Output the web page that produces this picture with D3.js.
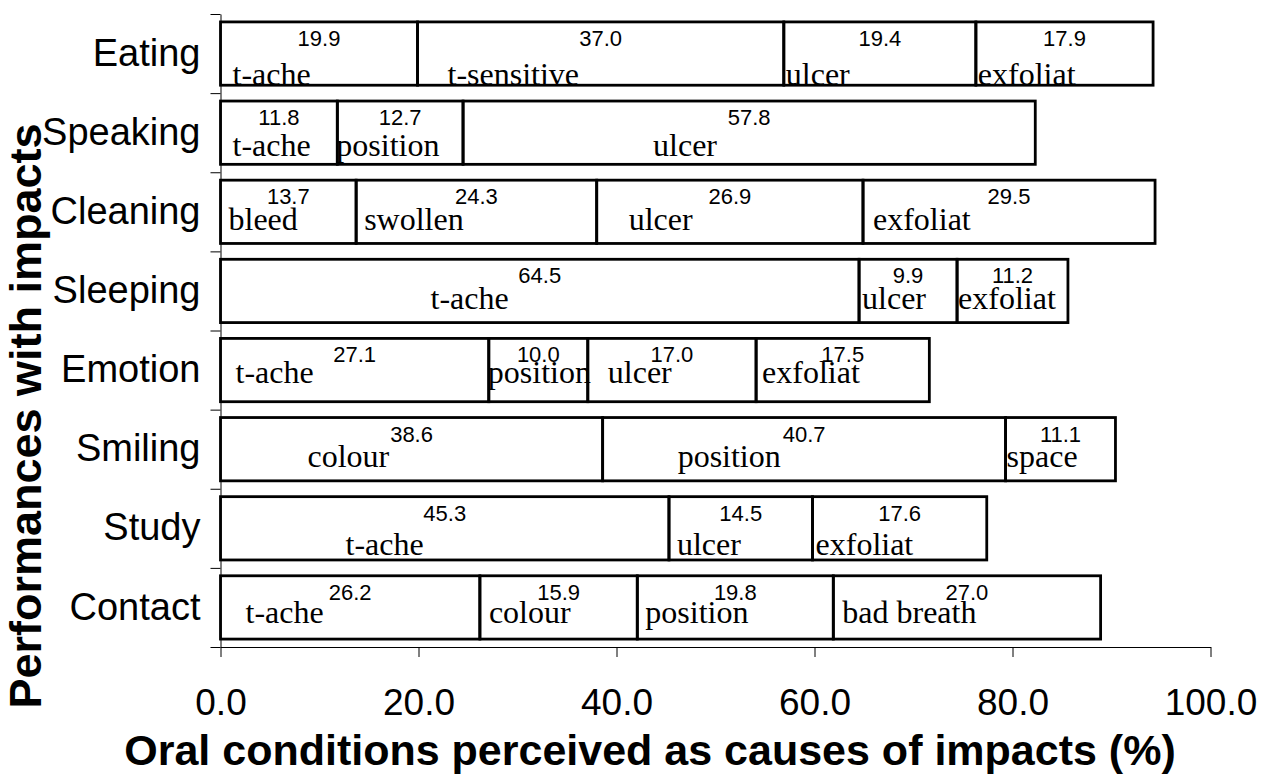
<!DOCTYPE html>
<html>
<head>
<meta charset="utf-8">
<script src="https://cdn.jsdelivr.net/npm/d3@7"></script>
<style>
  body { margin: 0; background: #fff; }
  svg text { fill: #000; }
</style>
</head>
<body>
<div id="chart"></div>
<script>
// impacts (rows, top to bottom)
var categories = ["Eating", "Speaking", "Cleaning", "Sleeping", "Emotion", "Smiling", "Study", "Contact"];

// percentages per row, stacked left to right
var values = [
  [19.9, 37.0, 19.4, 17.9],
  [11.8, 12.7, 57.8],
  [13.7, 24.3, 26.9, 29.5],
  [64.5, 9.9, 11.2],
  [27.1, 10.0, 17.0, 17.5],
  [38.6, 40.7, 11.1],
  [45.3, 14.5, 17.6],
  [26.2, 15.9, 19.8, 27.0]
];

// oral condition for each segment
var conditions = [
  ["t-ache", "t-sensitive", "ulcer", "exfoliat"],
  ["t-ache", "position", "ulcer"],
  ["bleed", "swollen", "ulcer", "exfoliat"],
  ["t-ache", "ulcer", "exfoliat"],
  ["t-ache", "position", "ulcer", "exfoliat"],
  ["colour", "position", "space"],
  ["t-ache", "ulcer", "exfoliat"],
  ["t-ache", "colour", "position", "bad breath"]
];

var xTicks = [0, 20, 40, 60, 80, 100];

// hand placement of the condition names (px from segment start / bar top)
var nameDx = [
  [12, 30, 2, 2],
  [12, -1, 190],
  [8, 8, 32, 10],
  [210, 3, 1],
  [15, -1, 20, 6],
  [87, 75, 1],
  [125, 8, 3],
  [25, 9, 8, 9]
];
var nameDy = [63, 55, 50, 50, 45, 49, 58, 47];

var width = 1264, height = 778;
var plot = {left: 220.5, right: 1210.5, top: 14, bottom: 647};

var svg = d3.select("#chart")
  .append("svg")
    .attr("width", width)
    .attr("height", height);

var x = d3.scaleLinear()
  .domain([0, 100])
  .range([plot.left, plot.right]);

var y = d3.scaleBand()
  .domain(categories)
  .range([plot.top, plot.bottom])
  .paddingInner(0.2)
  .paddingOuter(0.1);

// band edges for the y tick marks
var yEdge = d3.scaleLinear()
  .domain([0, categories.length])
  .range([plot.top, plot.bottom]);

// build stacked segments
var segments = [];
categories.forEach(function(c, i) {
  var start = 0;
  values[i].forEach(function(v, j) {
    segments.push({cat: c, row: i, col: j, x0: start, x1: start + v, value: v, name: conditions[i][j]});
    start += v;
  });
});

var g = svg.append("g");

// white boxes
g.selectAll("rect.fill")
  .data(segments)
  .enter().append("rect")
    .attr("class", "fill")
    .attr("x", function(d) { return x(d.x0); })
    .attr("y", function(d) { return y(d.cat); })
    .attr("width", function(d) { return x(d.x1) - x(d.x0); })
    .attr("height", y.bandwidth())
    .attr("fill", "#fff");

// values
g.selectAll("text.val")
  .data(segments)
  .enter().append("text")
    .attr("class", "val")
    .attr("x", function(d) { return x((d.x0 + d.x1) / 2); })
    .attr("y", function(d) { return y(d.cat) + 24; })
    .attr("text-anchor", "middle")
    .style("font-family", "'Liberation Sans', Arial, sans-serif")
    .style("font-size", "22px")
    .text(function(d) { return d.value.toFixed(1); });

// condition names
g.selectAll("text.name")
  .data(segments)
  .enter().append("text")
    .attr("class", "name")
    .attr("x", function(d) { return x(d.x0) + nameDx[d.row][d.col]; })
    .attr("y", function(d) { return y(d.cat) + nameDy[d.row]; })
    .style("font-family", "'Liberation Serif', 'Times New Roman', serif")
    .style("font-size", "32px")
    .text(function(d) { return d.name; });

// outlines on top
g.selectAll("rect.box")
  .data(segments)
  .enter().append("rect")
    .attr("class", "box")
    .attr("x", function(d) { return x(d.x0); })
    .attr("y", function(d) { return y(d.cat); })
    .attr("width", function(d) { return x(d.x1) - x(d.x0); })
    .attr("height", y.bandwidth())
    .attr("fill", "none")
    .attr("stroke", "#000")
    .attr("stroke-width", 2.8);

// X axis
var xAxis = svg.append("g")
  .attr("transform", "translate(0," + plot.bottom + ")")
  .call(d3.axisBottom(x)
    .tickValues(xTicks)
    .tickFormat(d3.format(".1f"))
    .tickSize(10)
    .tickSizeOuter(0)
    .tickPadding(32));
xAxis.selectAll("text")
  .style("font-family", "'Liberation Sans', Arial, sans-serif")
  .style("font-size", "37px");

// Y axis: tick marks between bands
svg.append("g")
  .attr("transform", "translate(" + plot.left + ",0)")
  .call(d3.axisLeft(yEdge)
    .ticks(categories.length)
    .tickFormat("")
    .tickSize(10)
    .tickSizeOuter(0));

// Y axis: category labels
var yAxis = svg.append("g")
  .attr("transform", "translate(" + plot.left + ",0)")
  .call(d3.axisLeft(y).tickSize(0).tickPadding(20));
yAxis.select(".domain").remove();
yAxis.selectAll("text")
  .style("font-family", "'Liberation Sans', Arial, sans-serif")
  .style("font-size", "38px");

// axis titles
svg.append("text")
  .attr("x", 650)
  .attr("y", 765)
  .attr("text-anchor", "middle")
  .style("font-family", "'Liberation Sans', Arial, sans-serif")
  .style("font-weight", "bold")
  .style("font-size", "43px")
  .text("Oral conditions perceived as causes of impacts (%)");

svg.append("text")
  .attr("transform", "translate(41," + 416 + ") rotate(-90)")
  .attr("text-anchor", "middle")
  .style("font-family", "'Liberation Sans', Arial, sans-serif")
  .style("font-weight", "bold")
  .style("font-size", "45px")
  .text("Performances with impacts");
</script>
</body>
</html>
